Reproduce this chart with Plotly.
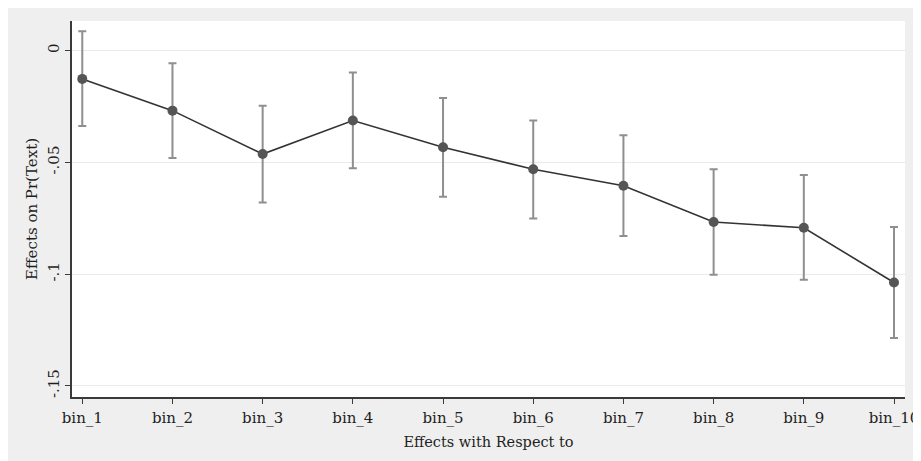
import plotly.graph_objects as go

categories = ["bin_1", "bin_2", "bin_3", "bin_4", "bin_5", "bin_6", "bin_7", "bin_8", "bin_9", "bin_10"]
estimates = [-0.0127, -0.0269, -0.0463, -0.0313, -0.0433, -0.0531, -0.0605, -0.0767, -0.0793, -0.1038]
ci_upper = [0.0086, -0.0057, -0.0247, -0.0098, -0.0213, -0.0313, -0.0379, -0.0531, -0.0557, -0.0789]
ci_lower = [-0.0338, -0.0481, -0.0680, -0.0527, -0.0654, -0.0752, -0.0830, -0.1003, -0.1025, -0.1286]
y_tickvals = [0, -0.05, -0.1, -0.15]
y_ticktext = ["0", "-.05", "-.1", "-.15"]

err_plus = [u - e for u, e in zip(ci_upper, estimates)]
err_minus = [e - l for e, l in zip(estimates, ci_lower)]

FONT = "DejaVu Serif"
TXT = "#1e1e1e"

fig = go.Figure()
fig.add_trace(go.Scatter(
    x=categories, y=estimates, mode="lines+markers",
    line=dict(color="#333333", width=1.6),
    marker=dict(color="#555555", size=10, line=dict(width=0)),
    error_y=dict(type="data", symmetric=False, array=err_plus, arrayminus=err_minus,
                 color="#8f8f8f", thickness=2, width=4),
    showlegend=False,
))

fig.update_layout(
    width=913, height=453,
    margin=dict(l=64, r=16, t=13, b=64, autoexpand=False),
    paper_bgcolor="#efefef", plot_bgcolor="white",
    font=dict(family=FONT, color=TXT, size=15),
    xaxis=dict(
        type="category", range=[-0.114, 9.122], automargin=False,
        showgrid=False, showline=True, linecolor="#3a3a3a", linewidth=1.5,
        ticks="outside", ticklen=5, tickcolor="#3a3a3a", tickwidth=1.3,
        ticklabelstandoff=1,
        tickfont=dict(family=FONT, size=15, color=TXT),
        title=dict(text="Effects with Respect to", font=dict(family=FONT, size=14.5, color=TXT), standoff=11),
        zeroline=False,
    ),
    yaxis=dict(
        range=[-0.155, 0.0132], automargin=False,
        tickvals=y_tickvals, ticktext=y_ticktext, tickangle=-90,
        showgrid=True, gridcolor="#ebebeb", gridwidth=1.2,
        showline=True, linecolor="#3a3a3a", linewidth=1.5,
        ticks="outside", ticklen=5, tickcolor="#3a3a3a", tickwidth=1.3,
        tickfont=dict(family=FONT, size=15, color=TXT),
        title=dict(text="Effects on Pr(Text)", font=dict(family=FONT, size=15, color=TXT), standoff=4),
        zeroline=False,
    ),
)

fig.write_html("out.html")
